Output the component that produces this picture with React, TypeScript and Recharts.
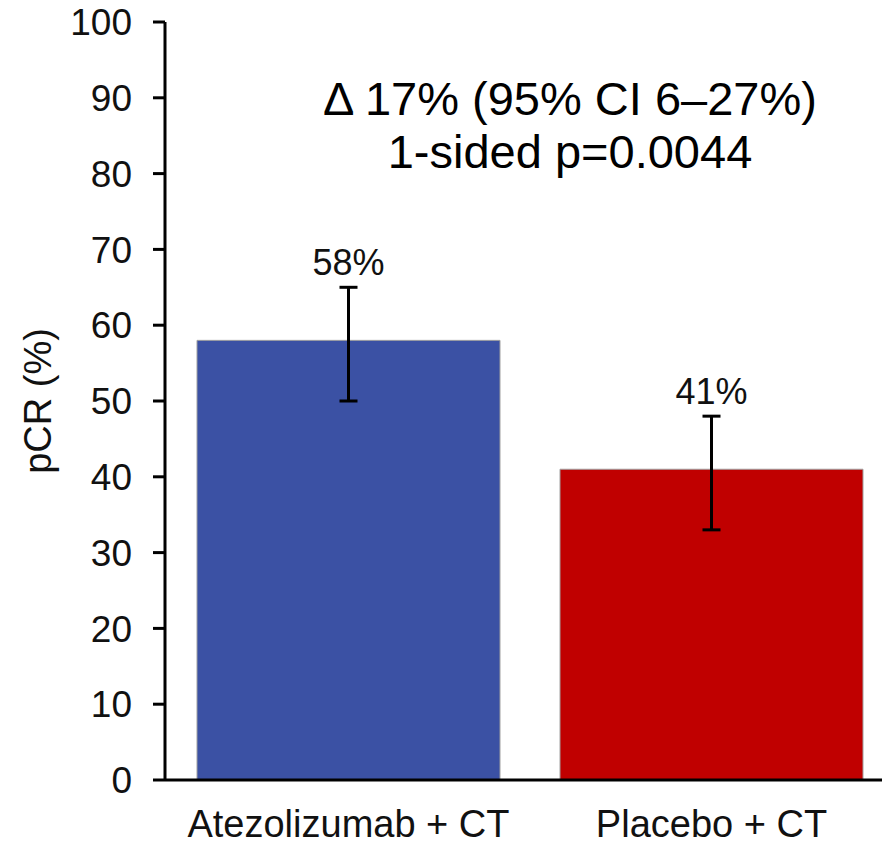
import React from 'react';
import { BarChart, Bar, XAxis, YAxis, ErrorBar, Cell, LabelList } from 'recharts';

const categories = ['Atezolizumab + CT', 'Placebo + CT'];
const pcrValues = [58, 41];
const ciLower = [50, 33];
const ciUpper = [65, 48];
const barColors = ['#3B51A4', '#C00000'];
const yTicks = [0, 10, 20, 30, 40, 50, 60, 70, 80, 90, 100];
const yAxisTitle = 'pCR (%)';
const annotationLines = ['\u0394 17% (95% CI 6\u201327%)', '1-sided p=0.0044'];

const data = categories.map((name, i) => ({
  name,
  value: pcrValues[i],
  err: [pcrValues[i] - ciLower[i], ciUpper[i] - pcrValues[i]],
}));

const FONT = '"Liberation Sans", Arial, Helvetica, sans-serif';

const BarValueLabel = (props: any) => {
  const { x, y, width, height, value } = props;
  const i = pcrValues.indexOf(Number(value));
  if (i < 0) return null;
  const pxPerUnit = Number(height) / Number(value);
  const top = Number(y) - (ciUpper[i] - pcrValues[i]) * pxPerUnit;
  return (
    <text
      x={Number(x) + Number(width) / 2}
      y={top - 12}
      textAnchor="middle"
      fontSize={36}
      fontFamily={FONT}
      fill="#111"
    >
      {`${value}%`}
    </text>
  );
};

const YTitle = (props: any) => {
  const vb = props.viewBox || { x: 0, y: 22, width: 165, height: 758 };
  const cy = vb.y + vb.height / 2;
  const cx = 38;
  return (
    <text
      x={cx}
      y={cy}
      transform={`rotate(-90 ${cx} ${cy})`}
      textAnchor="middle"
      dominantBaseline="central"
      fontSize={38}
      fontFamily={FONT}
      fill="#111"
    >
      {yAxisTitle}
    </text>
  );
};

export default function App() {
  return (
    <div
      style={{
        position: 'absolute',
        left: 0,
        top: 0,
        width: 882,
        height: 847,
        overflow: 'hidden',
        background: '#fff',
        fontFamily: FONT,
      }}
    >
      <BarChart
        width={900}
        height={847}
        data={data}
        margin={{ top: 22, right: 7, left: 0, bottom: 0 }}
        barCategoryGap={30}
      >
        <YAxis
          width={165}
          domain={[0, 100]}
          ticks={yTicks}
          interval={0}
          tickSize={12}
          tickMargin={21}
          axisLine={{ stroke: '#000', strokeWidth: 3 }}
          tickLine={{ stroke: '#000', strokeWidth: 3 }}
          tick={{ fill: '#111', fontSize: 37, fontFamily: FONT }}
          label={<YTitle />}
        />
        <XAxis
          dataKey="name"
          height={67}
          tickLine={false}
          tickSize={0}
          tickMargin={30}
          padding={{ left: 2, right: 0 }}
          axisLine={{ stroke: '#000', strokeWidth: 3 }}
          tick={{ fill: '#111', fontSize: 38, fontFamily: FONT }}
          interval={0}
        />
        <Bar dataKey="value" isAnimationActive={false} stroke="#a0a0a0" strokeWidth={1}>
          {data.map((d, i) => (
            <Cell key={d.name} fill={barColors[i]} />
          ))}
          <ErrorBar dataKey="err" direction="y" width={9} stroke="#000" strokeWidth={3} />
          <LabelList dataKey="value" content={<BarValueLabel />} />
        </Bar>
      </BarChart>
      <div
        style={{
          position: 'absolute',
          left: 270,
          width: 600,
          top: 72,
          textAlign: 'center',
          fontSize: 47,
          lineHeight: '53px',
          color: '#000',
          fontFamily: FONT,
          whiteSpace: 'nowrap',
        }}
      >
        <div>{annotationLines[0]}</div>
        <div>{annotationLines[1]}</div>
      </div>
    </div>
  );
}
